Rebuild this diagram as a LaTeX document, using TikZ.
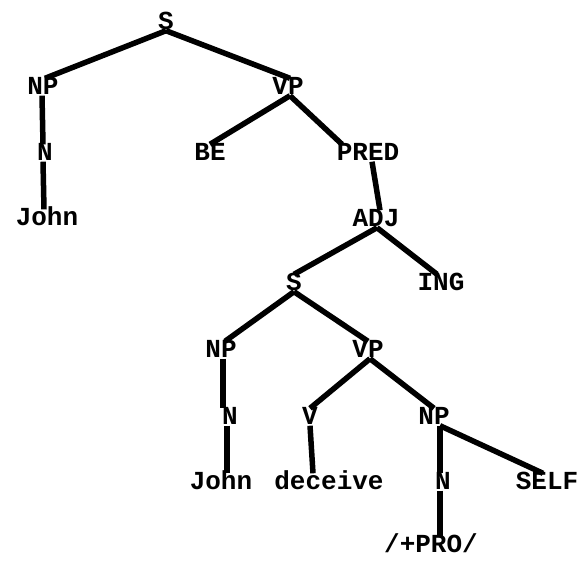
\documentclass[tikz,border=0pt]{standalone}
\usepackage{fontspec}
\setmonofont{Liberation Mono}
\begin{document}
\begin{tikzpicture}[x=1pt,y=-1pt,
  lab/.style={inner sep=1pt, text height=15pt, text depth=0pt,
    font=\fontsize{26}{26}\selectfont\ttfamily\bfseries},
  br/.style={line width=5.5pt}]
\useasboundingbox (0,0) rectangle (583,560);
\node[lab] (s1) at (166,22) {S};
\node[lab] (np1) at (43,87) {NP};
\node[lab] (vp1) at (288,87) {VP};
\node[lab] (n1) at (45,153) {N};
\node[lab] (john1) at (47,218) {John};
\node[lab] (be) at (210,153) {BE};
\node[lab] (pred) at (368,153) {PRED};
\node[lab] (adj) at (376,219) {ADJ};
\node[lab] (s2) at (294,283) {S};
\node[lab] (ing) at (441,283) {ING};
\node[lab] (np2) at (221,350) {NP};
\node[lab] (vp2) at (368,350) {VP};
\node[lab] (n2) at (230,417) {N};
\node[lab] (v) at (310,417) {V};
\node[lab] (np3) at (434,417) {NP};
\node[lab] (john2) at (221,482) {John};
\node[lab] (deceive) at (329,482) {deceive};
\node[lab] (n3) at (443,482) {N};
\node[lab] (self) at (547,482) {SELF};
\node[lab] (pro) at (431,545) {/+PRO/};

\draw[br] (s1.south) -- ([xshift=2pt]np1.north);
\draw[br] (s1.south) -- ([xshift=2pt]vp1.north);
\draw[br] ([xshift=-1pt]np1.south) -- ([xshift=-2pt]n1.north);
\draw[br] ([xshift=-2pt]n1.south) -- ([xshift=-3pt]john1.north);
\draw[br] ([xshift=2pt]vp1.south) -- (be.north);
\draw[br] ([xshift=2pt]vp1.south) -- ([xshift=-26pt]pred.north);
\draw[br] ([xshift=4pt]pred.south) -- ([xshift=4pt]adj.north);
\draw[br] ([xshift=1pt]adj.south) -- (s2.north);
\draw[br] ([xshift=1pt]adj.south) -- ([xshift=-4pt]ing.north);
\draw[br] (s2.south) -- ([xshift=4pt]np2.north);
\draw[br] (s2.south) -- (vp2.north);
\draw[br] ([xshift=2pt]np2.south) -- ([xshift=-7pt]n2.north);
\draw[br] ([xshift=2pt]vp2.south) -- (v.north);
\draw[br] ([xshift=2pt]vp2.south) -- (np3.north);
\draw[br] ([xshift=-3pt]n2.south) -- ([xshift=6pt]john2.north);
\draw[br] (v.south) -- ([xshift=-16pt]deceive.north);
\draw[br] ([xshift=6pt]np3.south) -- ([xshift=-3pt]n3.north);
\draw[br] ([xshift=6pt]np3.south) -- ([xshift=-4pt]self.north);
\draw[br] ([xshift=-3pt]n3.south) -- ([xshift=9pt]pro.north);
\end{tikzpicture}
\end{document}
